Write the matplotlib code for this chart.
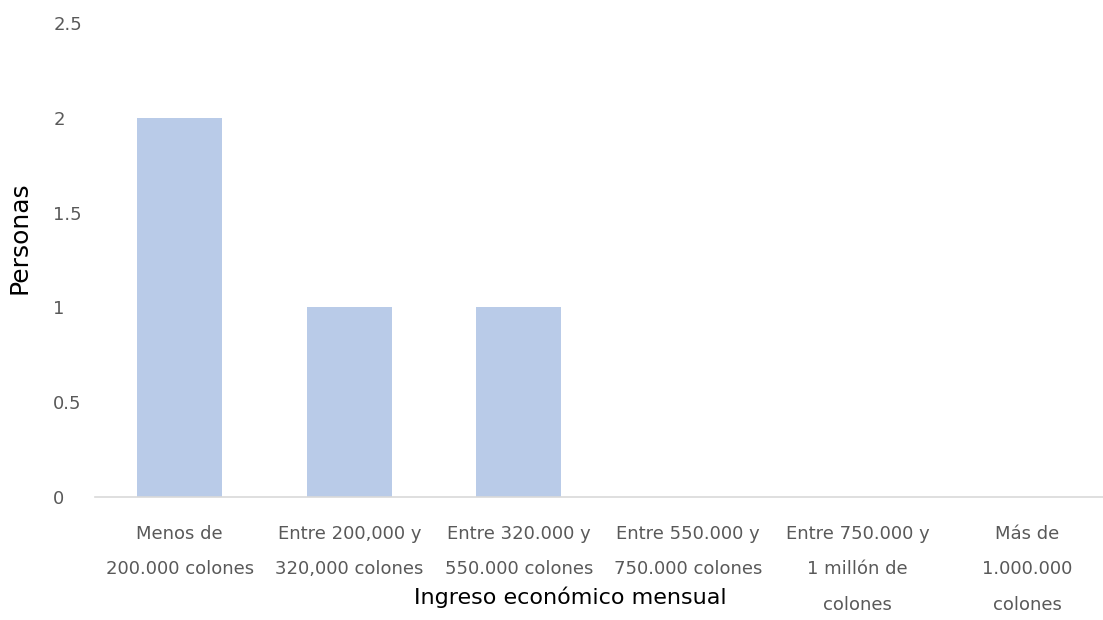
import matplotlib
matplotlib.use("Agg")
import matplotlib.pyplot as plt

categories = [
    "Menos de\n200.000 colones",
    "Entre 200,000 y\n320,000 colones",
    "Entre 320.000 y\n550.000 colones",
    "Entre 550.000 y\n750.000 colones",
    "Entre 750.000 y\n1 millón de\ncolones",
    "Más de\n1.000.000\ncolones",
]
values = [2, 1, 1, 0, 0, 0]
yticks = [0, 0.5, 1, 1.5, 2, 2.5]
ytick_labels = ["0", "0.5", "1", "1.5", "2", "2.5"]

fam = "DejaVu Sans"

W, H = 1103, 620
fig = plt.figure(figsize=(W / 100, H / 100), dpi=100)
ax = fig.add_axes([95 / W, 1 - 497 / H, (1112 - 95) / W, (497 - 23) / H])

x = list(range(len(categories)))
ax.bar(x, values, width=0.5, color="#b9cbe8", zorder=2)
ax.set_xlim(-0.5, 5.5)
ax.set_ylim(0, 2.5)
ax.set_yticks(yticks)
ax.set_yticklabels(ytick_labels, fontfamily=fam, fontsize=13, color="#595959", ha="left")
ax.set_xticks(x)
ax.set_xticklabels(categories, fontfamily=fam, fontsize=13, color="#595959", linespacing=2.25)
ax.tick_params(axis="both", length=0)
ax.tick_params(axis="y", pad=30)
ax.tick_params(axis="x", pad=20)
for s in ["top", "right", "left"]:
    ax.spines[s].set_visible(False)
ax.spines["bottom"].set_color("#d9d9d9")
ax.spines["bottom"].set_linewidth(1.2)

fig.text(570 / W, 1 - 597 / H, "Ingreso económico mensual", ha="center", va="center",
         fontfamily=fam, fontsize=16, color="#000000")
fig.text(20 / W, 1 - 238 / H, "Personas", ha="center", va="center", rotation=90,
         fontfamily=fam, fontsize=18, color="#000000")

fig.savefig("out.png", dpi=100)
